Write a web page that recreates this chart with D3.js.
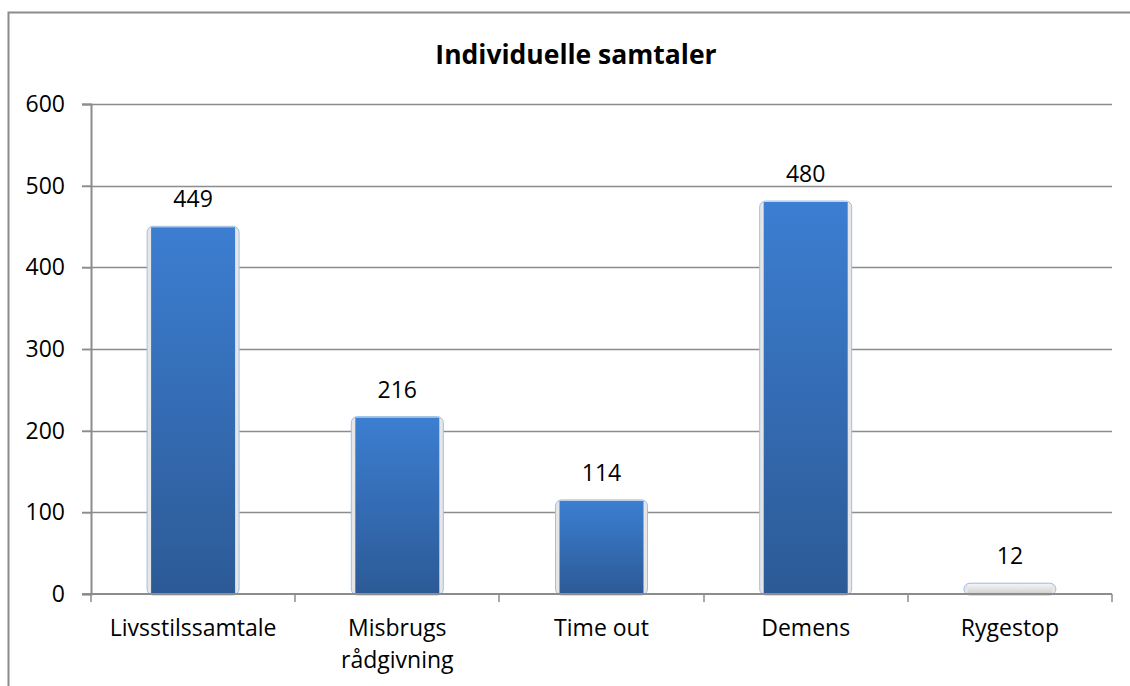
<!DOCTYPE html>
<html>
<head>
<meta charset="utf-8">
<script src="https://cdn.jsdelivr.net/npm/d3@7"></script>
<style>
  body { margin: 0; background: #fff; }
  text { font-family: "Open Sans", sans-serif; fill: #000; }
</style>
</head>
<body>
<div id="chart"></div>
<script>
var categories = ["Livsstilssamtale", "Misbrugs\nrådgivning", "Time out", "Demens", "Rygestop"];
var values = [449, 216, 114, 480, 12];
var yTicks = [0, 100, 200, 300, 400, 500, 600];
var title = "Individuelle samtaler";

var W = 1130, H = 686;
var margin = { left: 91, right: 18, top: 104, bottom: 92 };
var fs = "23px";

var svg = d3.select("#chart").append("svg")
  .attr("width", W)
  .attr("height", H);

// outer frame (runs off right and bottom edge)
svg.append("rect")
  .attr("x", 8.5).attr("y", 12.5)
  .attr("width", W + 20).attr("height", H + 20)
  .attr("fill", "none")
  .attr("stroke", "#8c8c8c")
  .attr("stroke-width", 2);

var defs = svg.append("defs");
var grad = defs.append("linearGradient").attr("id", "barGrad")
  .attr("x1", 0).attr("y1", 0).attr("x2", 0).attr("y2", 1);
grad.append("stop").attr("offset", "0%").attr("stop-color", "#3c7ed1");
grad.append("stop").attr("offset", "100%").attr("stop-color", "#2c5a96");

var gradSmall = defs.append("linearGradient").attr("id", "barGradSmall")
  .attr("x1", 0).attr("y1", 0).attr("x2", 0).attr("y2", 1);
gradSmall.append("stop").attr("offset", "0%").attr("stop-color", "#f4f4f4");
gradSmall.append("stop").attr("offset", "100%").attr("stop-color", "#cfcfcf");

var x = d3.scaleBand()
  .domain(categories)
  .range([margin.left, W - margin.right])
  .paddingInner(0)
  .paddingOuter(0);

var y = d3.scaleLinear()
  .domain([0, 600])
  .range([H - margin.bottom, margin.top]);

// gridlines
svg.append("g")
  .selectAll("line")
  .data(yTicks.filter(function (d) { return d > 0; }))
  .enter().append("line")
  .attr("x1", margin.left - 9)
  .attr("x2", W - margin.right)
  .attr("y1", function (d) { return Math.round(y(d)) + 0.5; })
  .attr("y2", function (d) { return Math.round(y(d)) + 0.5; })
  .attr("stroke", "#8c8c8c")
  .attr("stroke-width", 1.5);

// y axis
var yAxis = svg.append("g")
  .attr("transform", "translate(" + margin.left + ",0)")
  .call(d3.axisLeft(y).tickValues(yTicks).tickSize(9).tickPadding(17));
yAxis.select(".domain").attr("stroke", "#8c8c8c").attr("stroke-width", 2);
yAxis.selectAll(".tick line").attr("stroke", "#8c8c8c").attr("stroke-width", 1.5);
yAxis.selectAll(".tick text")
  .style("font-size", fs)
  .style("font-family", "'Open Sans', sans-serif")
  .attr("fill", "#000");

// bars
var bw = 84;
var bars = svg.append("g").selectAll("g")
  .data(values)
  .enter().append("g");

bars.append("rect")
  .attr("x", function (d, i) { return x(categories[i]) + x.bandwidth() / 2 - bw / 2 - 4; })
  .attr("y", function (d) { return y(d) - 1; })
  .attr("width", bw + 8)
  .attr("height", function (d) { return y(0) - y(d) + 2; })
  .attr("rx", 6)
  .attr("fill", "#e6e6e6")
  .attr("stroke", "#9fbfe8")
  .attr("stroke-width", 1);

bars.append("rect")
  .attr("x", function (d, i) { return x(categories[i]) + x.bandwidth() / 2 - bw / 2; })
  .attr("y", function (d) { return y(d); })
  .attr("width", bw)
  .attr("height", function (d) { return y(0) - y(d); })
  .attr("fill", function (d) { return (y(0) - y(d)) < 15 ? "url(#barGradSmall)" : "url(#barGrad)"; });

// value labels
bars.append("text")
  .attr("x", function (d, i) { return x(categories[i]) + x.bandwidth() / 2; })
  .attr("y", function (d) { return y(d) - 20; })
  .attr("text-anchor", "middle")
  .style("font-size", fs)
  .text(function (d) { return d; });

// x axis
var xAxis = svg.append("g")
  .attr("transform", "translate(0," + y(0) + ")");
xAxis.append("line")
  .attr("x1", margin.left - 9).attr("x2", W - margin.right)
  .attr("stroke", "#8c8c8c").attr("stroke-width", 2);
var bounds = [margin.left].concat(categories.map(function (c) { return x(c) + x.bandwidth(); }));
xAxis.selectAll(".xt")
  .data(bounds)
  .enter().append("line")
  .attr("class", "xt")
  .attr("x1", function (d) { return Math.round(d); })
  .attr("x2", function (d) { return Math.round(d); })
  .attr("y1", 0).attr("y2", 8)
  .attr("stroke", "#8c8c8c").attr("stroke-width", 1.5);

var xl = xAxis.selectAll(".xl")
  .data(categories)
  .enter().append("text")
  .attr("class", "xl")
  .attr("text-anchor", "middle")
  .style("font-size", fs)
  .attr("transform", function (d) { return "translate(" + (x(d) + x.bandwidth() / 2) + ",42)"; });
xl.selectAll("tspan")
  .data(function (d) { return d.split("\n"); })
  .enter().append("tspan")
  .attr("x", 0)
  .attr("dy", function (d, i) { return i === 0 ? 0 : 32; })
  .text(function (d) { return d; });

// title
svg.append("text")
  .attr("x", 576)
  .attr("y", 64)
  .attr("text-anchor", "middle")
  .style("font-size", "26.5px")
  .style("font-weight", "bold")
  .text(title);
</script>
</body>
</html>
